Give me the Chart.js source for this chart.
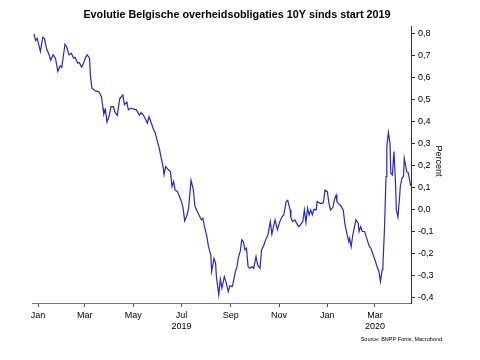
<!DOCTYPE html>
<html>
<head>
<meta charset="utf-8">
<script src="https://cdn.jsdelivr.net/npm/chart.js@4.4.1/dist/chart.umd.min.js"></script>
<style>
html,body{margin:0;padding:0;background:#fff;}
#wrap{width:480px;height:360px;}
</style>
</head>
<body>
<div id="wrap"><canvas id="c" width="480" height="360"></canvas></div>
<script>
// Days since 2019-01-01
const days = [
  -5,-3,-1,3,6,8,11,14,16,19,
  22,25,28,30,34,36,39,42,45,47,
  50,52,55,57,60,62,65,66,68,71,
  73,76,78,80,82,83,85,87,90,92,
  95,97,100,103,107,109,112,114,117,121,
  124,128,130,133,135,138,140,143,145,148,
  150,153,155,158,159,161,165,167,169,171,
  173,176,178,181,183,185,188,190,193,196,
  198,202,204,206,208,210,213,215,218,219,
  222,224,225,228,230,232,235,237,240,242,
  245,246,249,251,253,255,257,259,261,263,
  265,267,270,272,275,277,280,282,285,287,
  290,293,295,299,302,305,308,310,313,315,
  318,319,321,324,326,329,331,334,336,338,
  340,342,344,346,348,351,352,356,358,360,
  362,365,367,369,372,374,376,377,380,382,
  385,387,389,392,393,395,397,398,401,404,
  405,407,409,412,414,416,418,420,422,425,
  427,430,432,434,435,437,439,440,442,444,
  445,447,449,451,452,454,456,457,459,461,
  462,465,467,470
];
// Belgian 10Y government bond yield, percent
const yields = [
  0.80,0.77,0.78,0.72,0.785,0.78,0.73,0.705,0.68,0.705,
  0.69,0.63,0.655,0.648,0.753,0.743,0.705,0.712,0.69,0.693,
  0.667,0.67,0.649,0.663,0.693,0.705,0.69,0.614,0.553,0.545,
  0.54,0.538,0.53,0.515,0.462,0.435,0.455,0.40,0.43,0.47,
  0.47,0.445,0.43,0.505,0.523,0.478,0.49,0.455,0.462,0.458,
  0.455,0.43,0.443,0.43,0.417,0.394,0.424,0.394,0.372,0.349,
  0.318,0.28,0.242,0.19,0.16,0.197,0.18,0.174,0.106,0.129,
  0.09,0.083,0.064,0.038,0.008,-0.05,-0.023,0.008,0.135,0.09,
  0.015,-0.015,-0.03,-0.045,-0.038,-0.076,-0.121,-0.167,-0.205,-0.28,
  -0.22,-0.242,-0.303,-0.386,-0.315,-0.356,-0.303,-0.326,-0.371,-0.345,
  -0.348,-0.333,-0.28,-0.258,-0.212,-0.19,-0.136,-0.144,-0.182,-0.174,
  -0.258,-0.265,-0.258,-0.265,-0.212,-0.25,-0.265,-0.182,-0.159,-0.136,
  -0.114,-0.053,-0.11,-0.045,-0.09,-0.053,-0.03,-0.023,0.038,0.044,
  0.0,-0.035,-0.053,-0.045,-0.06,-0.076,-0.068,-0.053,0.0,-0.058,
  0.008,-0.023,0.0,-0.023,0.003,0.0,0.038,0.03,0.03,0.033,
  0.09,0.083,0.03,0.0,0.012,0.048,0.068,0.038,0.025,0.018,
  0.0,-0.06,-0.098,-0.144,-0.129,-0.167,-0.115,-0.098,-0.045,-0.06,
  -0.098,-0.076,-0.098,-0.098,-0.121,-0.144,-0.167,-0.174,-0.197,-0.227,
  -0.25,-0.28,-0.326,-0.273,-0.258,-0.09,0.152,0.288,0.352,0.303,
  0.167,0.159,0.265,0.121,0.0,-0.033,0.053,0.106,0.144,0.152,
  0.235,0.174,0.17,0.11
];
// Month tick positions (days since 2019-01-01) and labels
const monthTicks = [0, 59, 120, 181, 243, 304, 365, 425];
const monthLabels = ['Jan','Mar','May','Jul','Sep','Nov','Jan','Mar'];
const yearLabels = ['', '', '', '2019', '', '', '', '2020'];
const yTicks = [0.8,0.7,0.6,0.5,0.4,0.3,0.2,0.1,0.0,-0.1,-0.2,-0.3,-0.4];
const titleText = 'Evolutie Belgische overheidsobligaties 10Y sinds start 2019';
const axisTitle = 'Percent';
const sourceText = 'Source: BNPP Fortis, Macrobond';

const FONT = '"Liberation Sans", Arial, sans-serif';

const textPlugin = {
  id: 'texts',
  afterDraw(chart) {
    const ctx = chart.ctx;
    ctx.save();
    ctx.fillStyle = '#000';
    ctx.textBaseline = 'middle';
    ctx.textAlign = 'center';
    ctx.font = 'bold 10.8px ' + FONT;
    ctx.fillText(titleText, 237, 15);
    ctx.font = '5.5px ' + FONT;
    ctx.textAlign = 'right';
    ctx.fillText(sourceText, 442, 339);
    ctx.translate(438, 161);
    ctx.rotate(Math.PI / 2);
    ctx.textAlign = 'center';
    ctx.font = '9px ' + FONT;
    ctx.fillText(axisTitle, 0, 0);
    ctx.restore();
  }
};

const points = days.map((d, i) => ({x: d, y: yields[i]}));

new Chart(document.getElementById('c'), {
  type: 'line',
  data: {
    datasets: [{
      data: points,
      borderColor: '#2626d0',
      borderWidth: 1.2,
      pointRadius: 0,
      tension: 0,
      fill: false
    }]
  },
  options: {
    responsive: false,
    animation: false,
    events: [],
    layout: {padding: {left: 32, top: 26, right: 0, bottom: 0}},
    plugins: {legend: {display: false}, tooltip: {enabled: false}, title: {display: false}},
    scales: {
      x: {
        type: 'linear',
        position: 'bottom',
        min: -7.6,
        max: 470.5,
        afterFit(s) { s.height = 57; },
        afterBuildTicks(s) { s.ticks = monthTicks.map(v => ({value: v})); },
        grid: {display: true, drawOnChartArea: false, drawTicks: true, tickLength: 4, color: '#555'},
        border: {display: true, color: '#777', width: 1},
        ticks: {
          autoSkip: false,
          maxRotation: 0,
          padding: 3,
          color: '#000',
          font: {family: FONT, size: 9},
          callback(v, i) {
            return yearLabels[i] ? [monthLabels[i], yearLabels[i]] : monthLabels[i];
          }
        }
      },
      y: {
        type: 'linear',
        position: 'right',
        min: -0.423,
        max: 0.836,
        afterFit(s) { s.width = 69; },
        afterBuildTicks(s) { s.ticks = yTicks.map(v => ({value: v})); },
        grid: {display: true, drawOnChartArea: false, drawTicks: true, tickLength: 4, color: '#333'},
        border: {display: true, color: '#333', width: 1},
        ticks: {
          padding: 3,
          color: '#000',
          font: {family: FONT, size: 9},
          callback(v) { return v.toFixed(1).replace('.', ','); }
        }
      }
    }
  },
  plugins: [textPlugin]
});
</script>
</body>
</html>
